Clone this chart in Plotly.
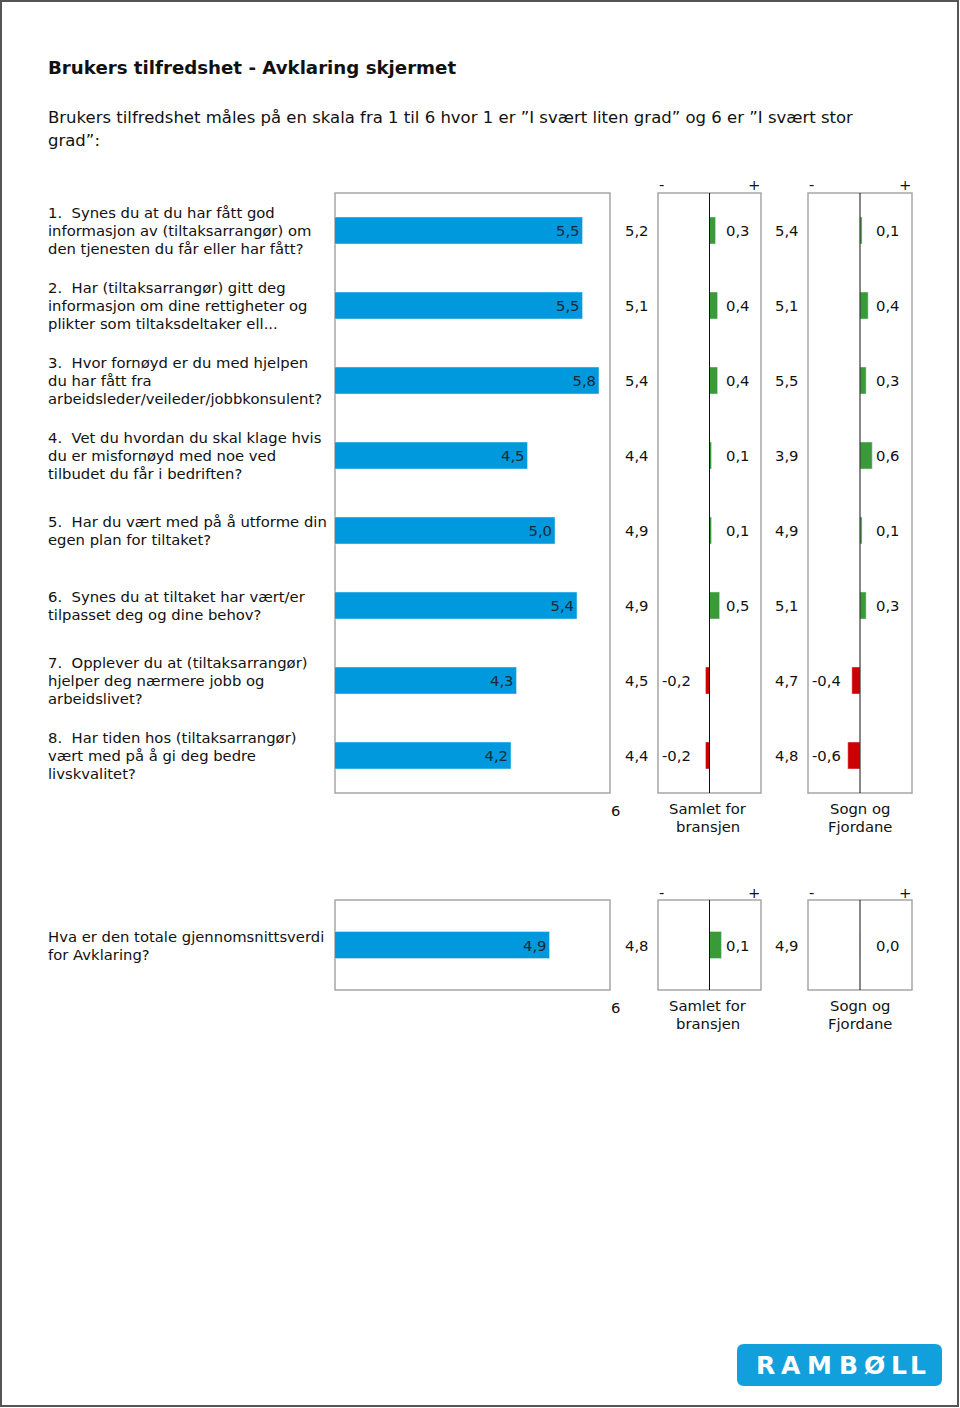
import plotly.graph_objects as go

# ---------------- data ----------------
questions = [
    ["1.\u00a0 Synes du at du har fått god", "informasjon av (tiltaksarrangør) om", "den tjenesten du får eller har fått?"],
    ["2.\u00a0 Har (tiltaksarrangør) gitt deg", "informasjon om dine rettigheter og", "plikter som tiltaksdeltaker ell..."],
    ["3.\u00a0 Hvor fornøyd er du med hjelpen", "du har fått fra", "arbeidsleder/veileder/jobbkonsulent?"],
    ["4.\u00a0 Vet du hvordan du skal klage hvis", "du er misfornøyd med noe ved", "tilbudet du får i bedriften?"],
    ["5.\u00a0 Har du vært med på å utforme din", "egen plan for tiltaket?"],
    ["6.\u00a0 Synes du at tiltaket har vært/er", "tilpasset deg og dine behov?"],
    ["7.\u00a0 Opplever du at (tiltaksarrangør)", "hjelper deg nærmere jobb og", "arbeidslivet?"],
    ["8.\u00a0 Har tiden hos (tiltaksarrangør)", "vært med på å gi deg bedre", "livskvalitet?"],
]
score = [5.5, 5.5, 5.8, 4.5, 5.0, 5.4, 4.3, 4.2]
bransje = [5.2, 5.1, 5.4, 4.4, 4.9, 4.9, 4.5, 4.4]
diff_bransje = [0.3, 0.4, 0.4, 0.1, 0.1, 0.5, -0.2, -0.2]
sogn = [5.4, 5.1, 5.5, 3.9, 4.9, 5.1, 4.7, 4.8]
diff_sogn = [0.1, 0.4, 0.3, 0.6, 0.1, 0.3, -0.4, -0.6]

total_question = ["Hva er den totale gjennomsnittsverdi", "for Avklaring?"]
total_score = [4.9]
total_bransje = [4.8]
total_diff_bransje = [0.1]
total_sogn = [4.9]
total_diff_sogn = [0.0]

col_labels = [["Samlet for", "bransjen"], ["Sogn og", "Fjordane"]]
scale_max_label = "6"

# ---------------- styling ----------------
W, H = 960, 1408
BLUE = "#0099DD"
GREEN = "#3A9A3A"
RED = "#CC0000"
BORDER = "#A6A6A6"
TXT = "#111111"
FONT = "DejaVu Sans"
FS = 14.8
LH = 18


def px(x):
    return x / W


def py(y):
    return 1 - y / H


def fmt(v):
    return f"{v:.1f}".replace(".", ",")


fig = go.Figure()
n = len(score)
rows = list(range(n))

fig.add_trace(go.Bar(
    y=rows, x=score, orientation="h", marker_color=BLUE, width=0.36,
    text=[fmt(v) for v in score], textposition="inside", insidetextanchor="end",
    textfont=dict(color="#1a2a3a", size=FS, family=FONT), xaxis="x", yaxis="y",
))
fig.add_trace(go.Bar(
    y=rows, x=diff_bransje, orientation="h", width=0.36,
    marker_color=[GREEN if d >= 0 else RED for d in diff_bransje],
    xaxis="x2", yaxis="y",
))
fig.add_trace(go.Bar(
    y=rows, x=diff_sogn, orientation="h", width=0.36,
    marker_color=[GREEN if d >= 0 else RED for d in diff_sogn],
    xaxis="x3", yaxis="y",
))
fig.add_trace(go.Bar(
    y=[0], x=total_score, orientation="h", marker_color=BLUE, width=0.3,
    text=[fmt(v) for v in total_score], textposition="inside", insidetextanchor="end",
    textfont=dict(color="#1a2a3a", size=FS, family=FONT), xaxis="x4", yaxis="y2",
))
fig.add_trace(go.Bar(
    y=[0], x=total_diff_bransje, orientation="h", width=0.3,
    marker_color=[GREEN if d >= 0 else RED for d in total_diff_bransje],
    xaxis="x5", yaxis="y2",
))
fig.add_trace(go.Bar(
    y=[0], x=total_diff_sogn, orientation="h", width=0.3,
    marker_color=[GREEN if d >= 0 else RED for d in total_diff_sogn],
    xaxis="x6", yaxis="y2",
))

# panel geometry (pixels)
main_x = (335, 610)
p1_x = (658, 761)
p2_x = (808, 912)
sec1_y = (193, 793)
sec2_y = (900, 990)
row_h = (sec1_y[1] - sec1_y[0]) / n

hidden = dict(visible=False, showgrid=False, zeroline=False, fixedrange=True)
fig.update_layout(
    xaxis=dict(hidden, domain=[px(main_x[0]), px(main_x[1])], range=[1, 6], anchor="y"),
    xaxis2=dict(hidden, domain=[px(p1_x[0]), px(p1_x[1])], range=[-2.55, 2.55], anchor="y"),
    xaxis3=dict(hidden, domain=[px(p2_x[0]), px(p2_x[1])], range=[-2.55, 2.55], anchor="y"),
    yaxis=dict(hidden, domain=[py(sec1_y[1]), py(sec1_y[0])], range=[n - 0.5, -0.5], anchor="x"),
    xaxis4=dict(hidden, domain=[px(main_x[0]), px(main_x[1])], range=[1, 6], anchor="y2"),
    xaxis5=dict(hidden, domain=[px(p1_x[0]), px(p1_x[1])], range=[-0.43, 0.43], anchor="y2"),
    xaxis6=dict(hidden, domain=[px(p2_x[0]), px(p2_x[1])], range=[-0.43, 0.43], anchor="y2"),
    yaxis2=dict(hidden, domain=[py(sec2_y[1]), py(sec2_y[0])], range=[0.5, -0.5], anchor="x4"),
)

shapes = []
for xa, ya in [("x", "y"), ("x2", "y"), ("x3", "y"), ("x4", "y2"), ("x5", "y2"), ("x6", "y2")]:
    shapes.append(dict(type="rect", xref=f"{xa} domain", yref=f"{ya} domain",
                       x0=0, x1=1, y0=0, y1=1, line=dict(color=BORDER, width=1.5),
                       layer="below"))
for xa, ya in [("x2", "y"), ("x3", "y"), ("x5", "y2"), ("x6", "y2")]:
    shapes.append(dict(type="line", xref=xa, yref=f"{ya} domain",
                       x0=0, x1=0, y0=0, y1=1, line=dict(color="#111111", width=1),
                       layer="above"))
shapes.append(dict(type="rect", xref="paper", yref="paper",
                   x0=px(1), x1=px(958), y0=py(1406), y1=py(1),
                   line=dict(color="#555555", width=2)))


def rounded_rect(x0, y0, x1, y1, r):
    X = lambda v: px(v)
    Y = lambda v: py(v)
    return (f"M {X(x0 + r)},{Y(y0)} L {X(x1 - r)},{Y(y0)} Q {X(x1)},{Y(y0)} {X(x1)},{Y(y0 + r)} "
            f"L {X(x1)},{Y(y1 - r)} Q {X(x1)},{Y(y1)} {X(x1 - r)},{Y(y1)} "
            f"L {X(x0 + r)},{Y(y1)} Q {X(x0)},{Y(y1)} {X(x0)},{Y(y1 - r)} "
            f"L {X(x0)},{Y(y0 + r)} Q {X(x0)},{Y(y0)} {X(x0 + r)},{Y(y0)} Z")


shapes.append(dict(type="path", xref="paper", yref="paper",
                   path=rounded_rect(737, 1344, 942, 1386, 7),
                   fillcolor="#12A0DC", line=dict(width=0)))

ann = []


def text(x, y, s, xanchor="left", yanchor="middle", size=FS, bold=False, color=TXT):
    ann.append(dict(x=px(x), y=py(y), xref="paper", yref="paper",
                    text=f"<b>{s}</b>" if bold else s,
                    showarrow=False, xanchor=xanchor, yanchor=yanchor,
                    font=dict(family=FONT, size=size, color=color)))


def lines(x, yc, parts, xanchor="left"):
    k = len(parts)
    for j, s in enumerate(parts):
        text(x, yc + LH * (j - (k - 1) / 2), s, xanchor=xanchor)


text(46, 67, "Brukers tilfredshet - Avklaring skjermet", size=18.2, bold=True)
text(46, 117, "Brukers tilfredshet måles på en skala fra 1 til 6 hvor 1 er ”I svært liten grad” og 6 er ”I svært stor", size=16.5)
text(46, 141, "grad”:", size=16.5)


def value_row(yc, b, db, s, ds):
    text(651, yc, fmt(b), xanchor="right")
    text(801, yc, fmt(s), xanchor="right")
    if db >= 0:
        text(752, yc, fmt(db), xanchor="right")
    else:
        text(660, yc, fmt(db), xanchor="left")
    if ds >= 0:
        text(902, yc, fmt(ds), xanchor="right")
    else:
        text(810, yc, fmt(ds), xanchor="left")


for i in rows:
    yc = sec1_y[0] + row_h * (i + 0.5)
    lines(46, yc, questions[i])
    value_row(yc, bransje[i], diff_bransje[i], sogn[i], diff_sogn[i])

yc2 = (sec2_y[0] + sec2_y[1]) / 2
lines(46, yc2, total_question)
value_row(yc2, total_bransje[0], total_diff_bransje[0], total_sogn[0], total_diff_sogn[0])

for top, bottom in [sec1_y, sec2_y]:
    for (a, b) in [p1_x, p2_x]:
        text(a + 3, top - 8, "-", xanchor="center")
        text(b - 7, top - 8, "+", xanchor="center")
    text(615, bottom + 17, scale_max_label, xanchor="center")
    lines((p1_x[0] + p1_x[1]) / 2 - 2, bottom + 24, col_labels[0], xanchor="center")
    lines((p2_x[0] + p2_x[1]) / 2, bottom + 24, col_labels[1], xanchor="center")

logo_letters = ["R", "A", "M", "B", "Ø", "L", "L"]
logo_x = [765, 791, 819, 848, 874, 899, 918]
for ch, lx in zip(logo_letters, logo_x):
    text(lx, 1365, ch, xanchor="center", size=25, bold=True, color="white")

fig.update_layout(
    width=W, height=H, margin=dict(l=0, r=0, t=0, b=0),
    paper_bgcolor="white", plot_bgcolor="white", showlegend=False,
    separators=", ", barmode="overlay",
    shapes=shapes, annotations=ann, font=dict(family=FONT, size=FS, color=TXT),
    uniformtext=dict(minsize=FS, mode="show"),
)

fig.write_html("out.html", config={"displayModeBar": False},
               post_script="document.body.style.margin='0';")
